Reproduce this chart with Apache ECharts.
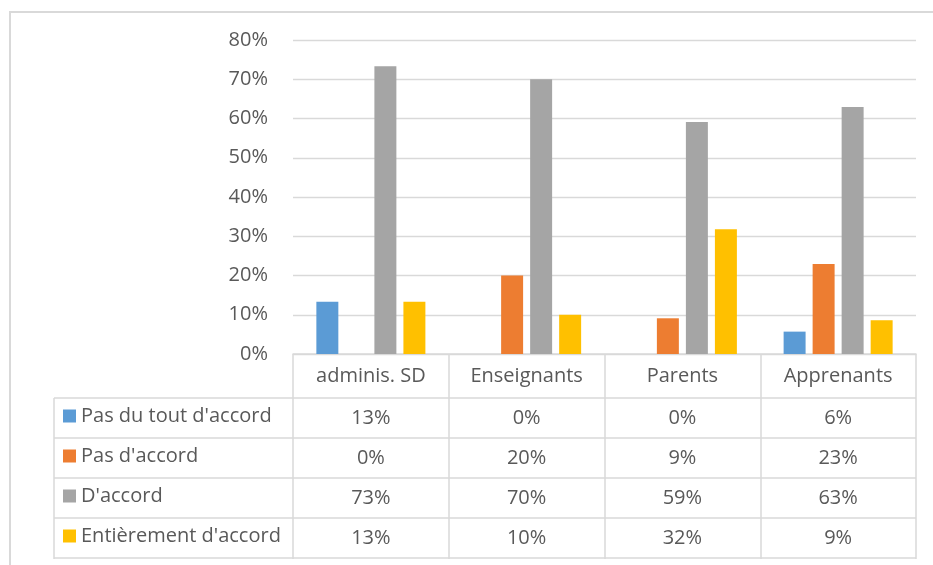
<!DOCTYPE html>
<html>
<head>
<meta charset="utf-8">
<script src="https://cdn.jsdelivr.net/npm/echarts@6/dist/echarts.min.js"></script>
<style>
  html, body { margin: 0; padding: 0; background: #ffffff; }
  #chart { width: 933px; height: 565px; }
</style>
</head>
<body>
<div id="chart"></div>
<script>
// Respondent groups
const categories = ['adminis. SD', 'Enseignants', 'Parents', 'Apprenants'];

// Answer shares (%) per group
const pasDuTout = [13.3, 0, 0, 5.7];
const pasDAccord = [0, 20, 9.1, 22.9];
const dAccord = [73.3, 70, 59.1, 62.9];
const entierement = [13.3, 10, 31.8, 8.6];

const seriesNames = ["Pas du tout d'accord", "Pas d'accord", "D'accord", "Entièrement d'accord"];
const seriesValues = [pasDuTout, pasDAccord, dAccord, entierement];
const seriesColors = ['#5B9BD5', '#ED7D31', '#A5A5A5', '#FFC000'];

// Value axis ticks
const yTicks = [0, 10, 20, 30, 40, 50, 60, 70, 80];

const FONT = '"Open Sans", sans-serif';
const TEXT = '#595959';
const LINE = '#d9d9d9';

const chart = echarts.init(document.getElementById('chart'), null, { renderer: 'canvas' });

// Category header plus one table row per series under each category
function tableColumn(value, index) {
  const rows = seriesValues.map(v => '{v|' + Math.round(v[index]) + '%}');
  return ['{h|' + value + '}'].concat(rows).join('\n');
}

// Data table grid lines (rows and the legend column edge)
const rowTops = [398, 438, 478, 518, 558];
const graphics = [
  {
    type: 'rect', silent: true,
    shape: { x: 10, y: 12, width: 1200, height: 1000 },
    style: { fill: 'none', stroke: LINE, lineWidth: 2 }
  },
  {
    type: 'line', silent: true,
    shape: { x1: 54, y1: 398, x2: 54, y2: 559 },
    style: { stroke: LINE, lineWidth: 1.5 }
  }
].concat(rowTops.map(y => ({
  type: 'line', silent: true,
  shape: { x1: 54, y1: y, x2: 916, y2: y },
  style: { stroke: LINE, lineWidth: 1.5 }
})));

chart.setOption({
  animation: false,
  backgroundColor: '#ffffff',
  textStyle: { fontFamily: FONT },
  grid: { left: 293, right: 17, top: 40, bottom: 211, containLabel: false },
  legend: {
    orient: 'vertical',
    left: 63,
    top: 406,
    padding: 0,
    itemGap: 20,
    itemWidth: 13,
    itemHeight: 13,
    icon: 'rect',
    selectedMode: false,
    data: seriesNames,
    textStyle: { color: TEXT, fontSize: 20, lineHeight: 20, fontFamily: FONT }
  },
  xAxis: {
    type: 'category',
    data: categories,
    axisLine: { show: true, lineStyle: { color: LINE, width: 1.5 } },
    axisTick: { show: true, interval: 0, length: 205, lineStyle: { color: LINE, width: 1.5 } },
    axisLabel: {
      interval: 0,
      margin: 0,
      formatter: tableColumn,
      rich: {
        h: { fontSize: 20, lineHeight: 44, color: TEXT, fontFamily: FONT, align: 'center' },
        v: { fontSize: 20, lineHeight: 40, color: TEXT, fontFamily: FONT, align: 'center' }
      }
    }
  },
  yAxis: {
    type: 'value',
    min: yTicks[0],
    max: yTicks[yTicks.length - 1],
    interval: 10,
    axisLine: { show: false },
    axisTick: { show: false },
    axisLabel: { formatter: '{value}%', color: TEXT, fontSize: 20, margin: 25, fontFamily: FONT },
    splitLine: { lineStyle: { color: LINE, width: 1.4 } }
  },
  series: seriesNames.map((name, i) => ({
    name: name,
    type: 'bar',
    data: seriesValues[i],
    barGap: '32%',
    barCategoryGap: '30%',
    itemStyle: { color: seriesColors[i] }
  })),
  graphic: graphics
});
</script>
</body>
</html>
